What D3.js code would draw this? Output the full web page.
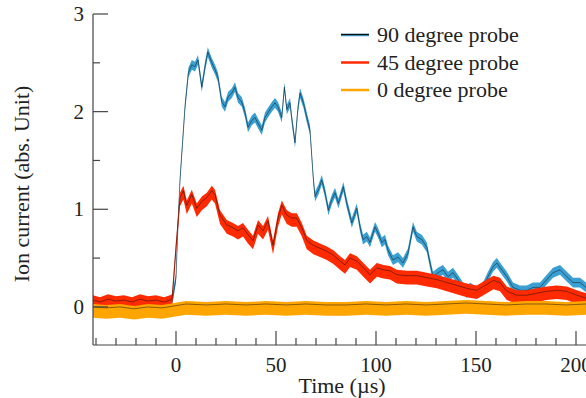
<!DOCTYPE html>
<html>
<head>
<meta charset="utf-8">
<script src="https://cdn.jsdelivr.net/npm/d3@7"></script>
<style>
  body { margin: 0; background: #fff; }
  text { font-family: 'Liberation Serif', 'Times New Roman', Times, 'DejaVu Serif', serif; }
</style>
</head>
<body>
<svg id="chart" width="586" height="398"></svg>
<script>
// time (µs) and current (abs. unit)
const t90 = [-41.5, -38, -34, -30, -26, -22, -18, -14, -10, -6, -3, -2,
  0, 1, 2, 3, 4.5, 6.2, 7.9, 9.5, 11, 12.9, 14.5, 15.9, 17.9, 19.5, 21, 22.9, 24.5, 26, 27.9, 29.5,
  31, 32.9, 34.5, 36, 37.9, 39.5, 41, 42.9, 44.5, 46, 47.9, 49.5, 51, 52.9, 54.2, 55.4, 57, 58, 59.5, 60.9,
  62, 63.7, 65.4, 67, 67.9, 68.7, 69.5, 71.2, 72.9, 74.5, 76.2, 77.9, 79.5, 81.2, 83.7, 85.4, 87.9, 90.4, 92, 93.5,
  95.4, 97, 99.5, 101, 102.9, 104.5, 106, 108.5, 111, 113.5, 116, 118.5, 120.4, 122.9, 125.4, 127, 128.5, 131, 133.5, 136,
  138.5, 141, 143.5, 145.4, 147, 151, 153.5, 156, 158.5, 160.4, 162.9, 165.4, 168.5, 172, 175.4, 178.5, 182, 185.4, 188.5, 192,
  195.4, 198.5, 202, 205];
const v90 = [0.03, 0.04, 0.02, 0.05, 0.03, 0.04, 0.02, 0.05, 0.03, 0.04, 0.05, 0.05,
  0.30, 0.85, 1.30, 1.60, 2.05, 2.40, 2.48, 2.46, 2.53, 2.25, 2.46, 2.61, 2.50, 2.43, 2.35, 2.10, 2.05, 2.15, 2.19, 2.25,
  2.14, 2.10, 1.99, 1.84, 1.91, 1.94, 1.88, 1.81, 1.94, 1.99, 2.05, 2.09, 2.05, 1.94, 2.25, 2.02, 2.09, 1.91, 1.68, 2.02,
  2.19, 2.09, 1.94, 1.81, 1.54, 1.30, 1.13, 1.20, 1.30, 1.17, 0.99, 1.10, 1.17, 1.06, 1.23, 1.06, 0.86, 1.01, 0.82, 0.69,
  0.72, 0.66, 0.82, 0.76, 0.66, 0.69, 0.58, 0.48, 0.51, 0.45, 0.55, 0.82, 0.72, 0.69, 0.61, 0.45, 0.31, 0.35, 0.38, 0.31,
  0.35, 0.28, 0.20, 0.14, 0.20, 0.14, 0.20, 0.31, 0.41, 0.45, 0.38, 0.31, 0.20, 0.17, 0.17, 0.20, 0.20, 0.28, 0.35, 0.38,
  0.31, 0.25, 0.25, 0.20];

const t45 = [-41.5, -38, -34, -30, -26, -22, -18, -14, -10, -6, -3, -2,
  0, 2, 3.7, 5.4, 7.9, 10.4, 12.9, 15.4, 17.9, 19.5, 22, 25.4, 28.5, 31, 33.5, 36, 38.5, 41, 43.5, 46,
  48.5, 51, 52.9, 55.4, 57.9, 60.4, 62.9, 65.4, 68.7, 72, 75.4, 78.7, 82, 84.5, 87, 90.4, 93.7, 97, 100.4, 103.7,
  107, 110.4, 115.4, 120.4, 125.4, 130.4, 135.4, 140.4, 145.4, 150.4, 153.7, 158.7, 162, 165.4, 170.4, 175.4, 180.4, 185.4, 190.4, 195.4,
  200.4, 205];
const v45 = [0.05, 0.03, 0.06, 0.04, 0.05, 0.03, 0.06, 0.04, 0.05, 0.03, 0.05, 0.06,
  0.60, 1.10, 1.17, 1.02, 1.13, 0.99, 1.06, 1.10, 1.17, 1.13, 0.92, 0.82, 0.79, 0.76, 0.79, 0.72, 0.66, 0.82, 0.76, 0.86,
  0.61, 0.89, 1.02, 0.92, 0.89, 0.89, 0.79, 0.66, 0.61, 0.58, 0.55, 0.51, 0.45, 0.41, 0.48, 0.45, 0.38, 0.31, 0.38, 0.36,
  0.35, 0.31, 0.30, 0.30, 0.28, 0.26, 0.23, 0.20, 0.17, 0.15, 0.19, 0.25, 0.23, 0.14, 0.10, 0.10, 0.12, 0.14, 0.15, 0.14,
  0.10, 0.07];

const t0 = [-41.5, -35, -28, -21, -14, -7, -1, 5, 15, 25, 35, 45, 55, 65, 75, 85, 95, 105, 115, 125,
  135, 145, 155, 165, 175, 185, 195, 205];
const v0 = [-0.03, -0.04, -0.03, -0.05, -0.03, -0.04, -0.02, 0.0, -0.01, 0.0, -0.01, 0.0, -0.01, 0.0, -0.01, -0.01, 0.0, -0.01, 0.0, -0.01,
  0.0, 0.01, 0.0, -0.01, 0.0, 0.0, -0.01, 0.0];

// noise band around each trace: [below, above]
const spread90 = [0.05, 0.05];
const spread45 = [0.07, 0.07];
const spread0 = [0.08, 0.06];

const legendLabels = ['90 degree probe', '45 degree probe', '0 degree probe'];
const xTicks = [0, 50, 100, 150, 200];
const yTicks = [0, 1, 2, 3];

const series = [
  { t: t90, v: v90, spread: spread90, color: '#3a9fd2', lift: 0 },
  { t: t45, v: v45, spread: spread45, color: '#ff2a00', lift: 0.02 },
  { t: t0, v: v0, spread: spread0, color: '#ffa500', lift: 0.03 }
];

const svg = d3.select('#chart');
const axisColor = '#444';
const fontSize = '21px';

const x = d3.scaleLinear().domain([-41.5, 205]).range([93, 586]);
const y = d3.scaleLinear().domain([-0.39, 3]).range([345, 14]);

series.forEach(s => {
  const pts = d3.zip(s.t, s.v);
  const band = d3.area()
    .x(d => x(d[0]))
    .y0(d => y(d[1] - s.spread[0]))
    .y1(d => y(d[1] + s.spread[1]));
  svg.append('path')
    .datum(pts)
    .attr('d', band)
    .attr('fill', s.color);
  const line = d3.line()
    .x(d => x(d[0]))
    .y(d => y(d[1] + s.lift));
  svg.append('path')
    .datum(pts)
    .attr('d', line)
    .attr('fill', 'none')
    .attr('stroke', '#111')
    .attr('stroke-opacity', 0.7)
    .attr('stroke-width', 0.7);
});

// left axis
const yAxis = svg.append('g');
yAxis.append('line')
  .attr('x1', 93).attr('x2', 93).attr('y1', 14).attr('y2', 345)
  .attr('stroke', axisColor).attr('stroke-width', 1.2);
d3.range(-0.5, 3.01, 0.5).filter(v => v >= -0.39).forEach(v => {
  const major = Number.isInteger(v);
  yAxis.append('line')
    .attr('x1', 93).attr('x2', 93 + (major ? 15 : 7))
    .attr('y1', y(v)).attr('y2', y(v))
    .attr('stroke', axisColor).attr('stroke-width', 1.2);
});
yAxis.selectAll('text.tick')
  .data(yTicks)
  .enter()
  .append('text')
  .attr('x', 84)
  .attr('y', d => y(d))
  .attr('dy', '0.34em')
  .attr('text-anchor', 'end')
  .style('font-size', fontSize)
  .attr('fill', '#222')
  .text(d => d);

// bottom axis
const xAxis = svg.append('g');
xAxis.append('line')
  .attr('x1', 93).attr('x2', 586).attr('y1', 345).attr('y2', 345)
  .attr('stroke', axisColor).attr('stroke-width', 1.2);
d3.range(-40, 206, 10).forEach(t => {
  const major = t % 50 === 0;
  xAxis.append('line')
    .attr('x1', x(t)).attr('x2', x(t))
    .attr('y1', 345).attr('y2', 345 - (major ? 14 : 7))
    .attr('stroke', axisColor).attr('stroke-width', 1.2);
});
xAxis.selectAll('text.tick')
  .data(xTicks)
  .enter()
  .append('text')
  .attr('x', d => x(d))
  .attr('y', 372)
  .attr('text-anchor', 'middle')
  .style('font-size', fontSize)
  .attr('fill', '#222')
  .text(d => d);

svg.append('text')
  .attr('x', 342)
  .attr('y', 393)
  .attr('text-anchor', 'middle')
  .style('font-size', '22px')
  .attr('fill', '#222')
  .text('Time (µs)');

svg.append('text')
  .attr('transform', 'translate(29,184) rotate(-90)')
  .attr('text-anchor', 'middle')
  .style('font-size', '22px')
  .attr('fill', '#222')
  .text('Ion current (abs. Unit)');

// legend
const legend = svg.append('g');
legendLabels.forEach((label, i) => {
  const ly = 35 + i * 27.5;
  legend.append('line')
    .attr('x1', 341).attr('x2', 369).attr('y1', ly).attr('y2', ly)
    .attr('stroke', series[i].color).attr('stroke-width', 2.5);
  if (i === 0) {
    legend.append('line')
      .attr('x1', 341).attr('x2', 369).attr('y1', ly - 0.5).attr('y2', ly - 0.5)
      .attr('stroke', '#111').attr('stroke-width', 1.3);
  }
  legend.append('text')
    .attr('x', 377)
    .attr('y', ly + 7)
    .style('font-size', '22px')
    .attr('fill', '#222')
    .text(label);
});
</script>
</body>
</html>
